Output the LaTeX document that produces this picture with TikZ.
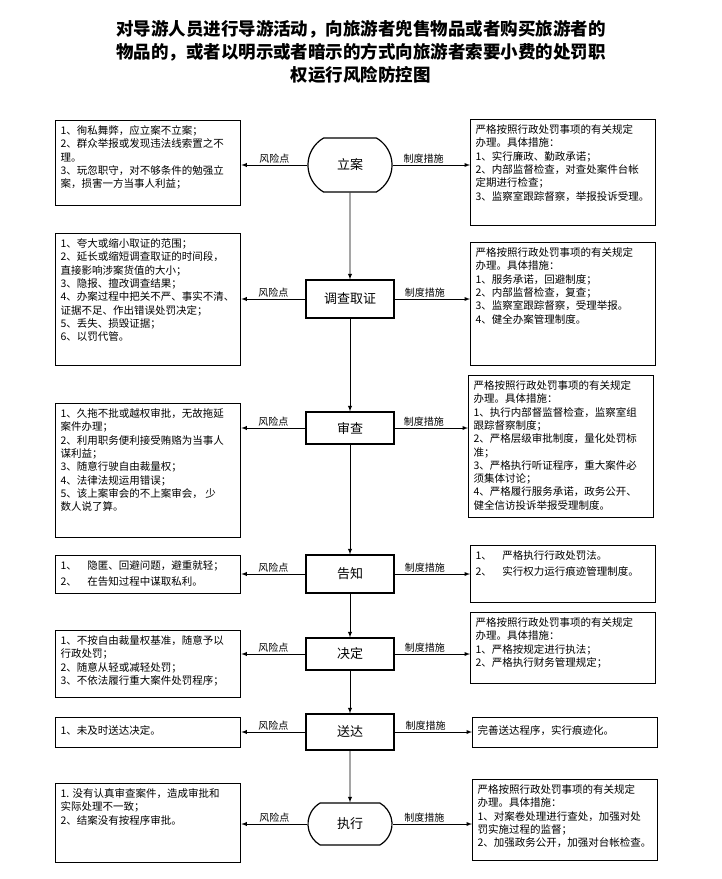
\documentclass[tikz,border=0pt]{standalone}
\usepackage{fontspec}
\newfontfamily\cjk{Noto Sans CJK SC}
\usetikzlibrary{arrows,shapes.misc}

\begin{document}
\begin{tikzpicture}[x=1pt, y=-1pt, >=latex]
      \tikzset{
	  stepnode/.style={rectangle, draw=black, line width=1.2pt, minimum width=88pt, minimum height=34pt, inner sep=2pt, text centered, font=\cjk\fontsize{13}{15}\selectfont},
	  endnode/.style={stepnode, rounded rectangle, rounded rectangle arc length=120},
	  riskbox/.style={rectangle, draw=black, line width=1.3pt, anchor=north west, inner xsep=5pt, inner ysep=5pt, font=\cjk\fontsize{10.5}{13.3}\selectfont},
	  flow/.style={->, line width=0.9pt},
	  flowtag/.style={above, inner sep=1pt, font=\cjk\fontsize{10}{12}\selectfont},
	  title/.style={align=center, font=\cjk\bfseries\fontsize{17.5}{23}\selectfont}
      }
      \def\boxtext#1#2{\parbox[t][#1][t]{175pt}{\raggedright #2}}
      \useasboundingbox (0,0) rectangle (722,879);

      \node at (361, 52) [title] (title) {对导游人员进行导游活动，向旅游者兜售物品或者购买旅游者的\\物品的，或者以明示或者暗示的方式向旅游者索要小费的处罚职\\权运行风险防控图};

      % steps
      \node at (350, 165) [endnode, minimum height=54pt] (s1) {立案};
      \node at (350, 299) [stepnode, minimum height=38pt] (s2) {调查取证};
      \node at (350, 428) [stepnode, minimum height=32pt] (s3) {审查};
      \node at (350, 574) [stepnode, minimum height=38pt] (s4) {告知};
      \node at (350, 654) [stepnode, minimum height=32pt] (s5) {决定};
      \node at (350, 732) [stepnode, minimum height=36pt] (s6) {送达};
      \node at (350, 824) [endnode, minimum height=42pt] (s7) {执行};

      % risks
      \node at (55, 120) [riskbox] (r1) {\boxtext{75pt}{1、徇私舞弊，应立案不立案；\\2、群众举报或发现违法线索置之不\\理。\\3、玩忽职守，对不够条件的勉强立\\案，损害一方当事人利益；}};
      \node at (55, 233) [riskbox] (r2) {\boxtext{122pt}{1、夸大或缩小取证的范围；\\2、延长或缩短调查取证的时间段，\\直接影响涉案货值的大小；\\3、隐报、擅改调查结果；\\4、办案过程中把关不严、事实不清、\\证据不足、作出错误处罚决定；\\5、丢失、损毁证据；\\6、以罚代管。}};
      \node at (55, 403) [riskbox] (r3) {\boxtext{124pt}{1、久拖不批或越权审批，无故拖延\\案件办理；\\2、利用职务便利接受贿赂为当事人\\谋利益；\\3、随意行驶自由裁量权；\\4、法律法规运用错误；\\5、该上案审会的不上案审会， 少\\数人说了算。}};
      \node at (55, 555) [riskbox] (r4) {\boxtext{28pt}{\fontsize{10.5}{16}\selectfont 1、\hspace{1em}隐匿、回避问题，避重就轻；\\2、\hspace{1em}在告知过程中谋取私利。}};
      \node at (55, 630) [riskbox] (r5) {\boxtext{57pt}{1、不按自由裁量权基准，随意予以\\行政处罚；\\2、随意从轻或减轻处罚；\\3、不依法履行重大案件处罚程序；}};
      \node at (55, 717) [riskbox] (r6) {\boxtext{20pt}{\vspace*{3pt}1、未及时送达决定。}};
      \node at (55, 783) [riskbox] (r7) {\boxtext{69pt}{1. 没有认真审查案件，造成审批和\\实际处理不一致；\\2、结案没有按程序审批。}};

      % measures
      \node at (470, 119) [riskbox] (m1) {\boxtext{96pt}{严格按照行政处罚事项的有关规定\\办理。具体措施：\\1、实行廉政、勤政承诺；\\2、内部监督检查，对查处案件台帐\\定期进行检查；\\3、监察室跟踪督察，举报投诉受理。}};
      \node at (470, 242) [riskbox] (m2) {\boxtext{113pt}{严格按照行政处罚事项的有关规定\\办理。具体措施：\\1、服务承诺，回避制度；\\2、内部监督检查，复查；\\3、监察室跟踪督察，受理举报。\\4、健全办案管理制度。}};
      \node at (468, 375) [riskbox] (m3) {\boxtext{132pt}{严格按照行政处罚事项的有关规定\\办理。具体措施：\\1、执行内部督监督检查，监察室组\\跟踪督察制度；\\2、严格层级审批制度，量化处罚标\\准；\\3、严格执行听证程序，重大案件必\\须集体讨论；\\4、严格履行服务承诺，政务公开、\\健全信访投诉举报受理制度。}};
      \node at (470, 545) [riskbox] (m4) {\boxtext{47pt}{\fontsize{10.5}{16}\selectfont 1、\hspace{1em}严格执行行政处罚法。\\2、\hspace{1em}实行权力运行痕迹管理制度。}};
      \node at (470, 612) [riskbox] (m5) {\boxtext{61pt}{严格按照行政处罚事项的有关规定\\办理。具体措施：\\1、严格按规定进行执法；\\2、严格执行财务管理规定；}};
      \node at (472, 717) [riskbox] (m6) {\boxtext{20pt}{\vspace*{3pt}完善送达程序，实行痕迹化。}};
      \node at (472, 779) [riskbox] (m7) {\boxtext{71pt}{严格按照行政处罚事项的有关规定\\办理。具体措施：\\1、对案卷处理进行查处，加强对处\\罚实施过程的监督；\\2、加强政务公开，加强对台帐检查。}};

      \foreach \i in {1,...,7} {
	  \draw[flow] (s\i.west) -- (s\i.west -| r\i.east) node[flowtag, midway] {风险点};
	  \draw[flow] (s\i.east) -- (s\i.east -| m\i.west) node[flowtag, pos=0.4] {制度措施};
      }
      \foreach \i/\j in {1/2,2/3,3/4,4/5,5/6,6/7}
	  \draw[flow] (s\i) -- (s\j);
    \end{tikzpicture}
\end{document}
